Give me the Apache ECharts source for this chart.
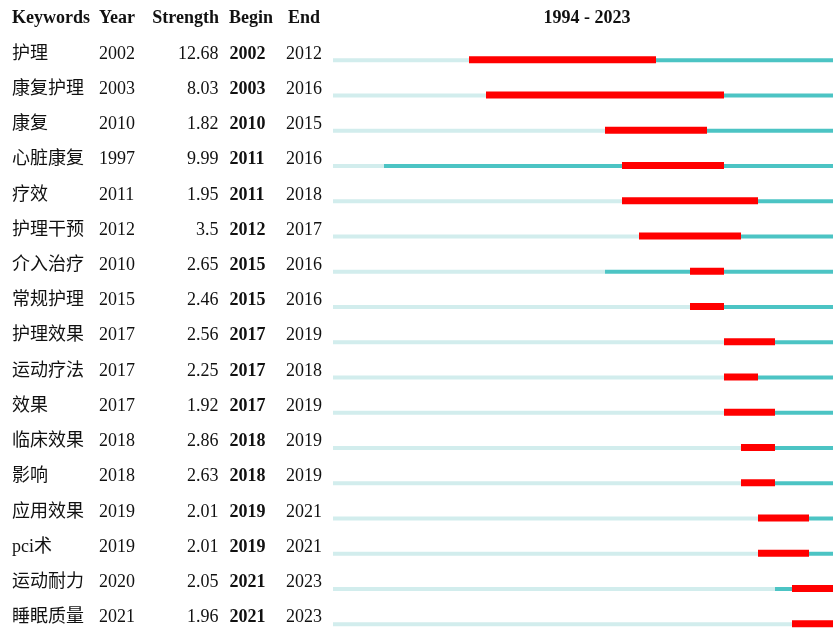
<!DOCTYPE html>
<html>
<head>
<meta charset="utf-8">
<script src="https://cdn.jsdelivr.net/npm/echarts@6/dist/echarts.min.js"></script>
<style>
  html, body { margin: 0; padding: 0; background: #fff; }
  #chart-container { width: 833px; height: 628px; }
</style>
</head>
<body>
<div id="chart-container"></div>
<script>
const keywords = ['护理', '康复护理', '康复', '心脏康复', '疗效', '护理干预', '介入治疗', '常规护理', '护理效果', '运动疗法', '效果', '临床效果', '影响', '应用效果', 'pci术', '运动耐力', '睡眠质量'];
const years = [2002, 2003, 2010, 1997, 2011, 2012, 2010, 2015, 2017, 2017, 2017, 2018, 2018, 2019, 2019, 2020, 2021];
const strengths = ['12.68', '8.03', '1.82', '9.99', '1.95', '3.5', '2.65', '2.46', '2.56', '2.25', '1.92', '2.86', '2.63', '2.01', '2.01', '2.05', '1.96'];
const begins = [2002, 2003, 2010, 2011, 2011, 2012, 2015, 2015, 2017, 2017, 2017, 2018, 2018, 2019, 2019, 2021, 2021];
const ends = [2012, 2016, 2015, 2016, 2018, 2017, 2016, 2016, 2019, 2018, 2019, 2019, 2019, 2021, 2021, 2023, 2023];
const headers = ['Keywords', 'Year', 'Strength', 'Begin', 'End'];
const firstYear = 1994;
const lastYear = 2023;

const FONT = '"Liberation Serif", "Times New Roman", "Noto Sans CJK SC", serif';
const LIGHT = '#d2eded';
const TEAL = '#4cc4c4';
const RED = '#ff0000';
// the timeline is 17px per year and runs past the right edge of the window
const YEAR_PX = 17;
const BAR_WIDTH = 500;

const dom = document.getElementById('chart-container');
const myChart = echarts.init(dom, null, { renderer: 'canvas' });

const rows = keywords.map((k, i) => [i, years[i], begins[i], ends[i]]);

// one text column = one category y axis in grid 0
const textAxis = (data, offset, align, bold) => ({
  type: 'category',
  gridIndex: 0,
  data: data,
  inverse: true,
  boundaryGap: false,
  position: 'left',
  offset: offset,
  axisLine: { show: false },
  axisTick: { show: false },
  axisLabel: {
    margin: 0,
    align: align,
    color: '#111',
    fontFamily: FONT,
    fontSize: 18,
    fontWeight: bold ? 'bold' : 'normal',
    interval: 0
  }
});

const headerTitle = (text, pos) => Object.assign({
  text: text,
  top: 9,
  padding: 0,
  textStyle: { fontFamily: FONT, fontSize: 18, fontWeight: 'bold', color: '#111', lineHeight: 18 }
}, pos);

function renderBurst(params, api) {
  const year = api.value(1), b = api.value(2), e = api.value(3);
  const y = api.coord([firstYear, api.value(0)])[1];
  const x0 = api.coord([firstYear, 0])[0];
  const xy = api.coord([year, 0])[0];
  const xb = api.coord([b, 0])[0];
  const xe = api.coord([e + 1, 0])[0];
  const xEnd = api.coord([lastYear + 1, 0])[0];
  return {
    type: 'group',
    children: [
      { type: 'rect', shape: { x: x0, y: y - 2, width: xy - x0, height: 4 }, style: { fill: LIGHT } },
      { type: 'rect', shape: { x: xy, y: y - 2, width: xEnd - xy, height: 4 }, style: { fill: TEAL } },
      { type: 'rect', shape: { x: xb, y: y - 4, width: xe - xb, height: 7 }, style: { fill: RED } }
    ]
  };
}

const option = {
  animation: false,
  backgroundColor: '#fff',
  title: [
    headerTitle(headers[0], { left: 12 }),
    headerTitle(headers[1], { left: 99 }),
    headerTitle(headers[2], { right: 833 - 219 }),
    headerTitle(headers[3], { left: 229 }),
    headerTitle(headers[4], { left: 288 }),
    headerTitle(firstYear + ' - ' + lastYear, { left: 587, textAlign: 'center' })
  ],
  grid: [
    { left: 333, top: 54, height: 563.5, width: 500, containLabel: false },
    { left: 333, top: 60.3, height: 564, width: BAR_WIDTH, containLabel: false }
  ],
  xAxis: [
    { type: 'value', gridIndex: 0, show: false },
    { type: 'value', gridIndex: 1, show: false, min: firstYear, max: firstYear + BAR_WIDTH / YEAR_PX }
  ],
  yAxis: [
    textAxis(keywords, 321, 'left', false),
    textAxis(years.map(String), 234, 'left', false),
    textAxis(strengths, 114.5, 'right', false),
    textAxis(begins.map(String), 103.5, 'left', true),
    textAxis(ends.map(String), 47, 'left', false),
    {
      type: 'category',
      gridIndex: 1,
      data: keywords,
      inverse: true,
      boundaryGap: false,
      show: false
    }
  ],
  series: [
    {
      type: 'custom',
      xAxisIndex: 1,
      yAxisIndex: 5,
      renderItem: renderBurst,
      data: rows,
      silent: true,
      clip: false
    }
  ]
};

myChart.setOption(option);
window.addEventListener('resize', myChart.resize);
</script>
</body>
</html>
